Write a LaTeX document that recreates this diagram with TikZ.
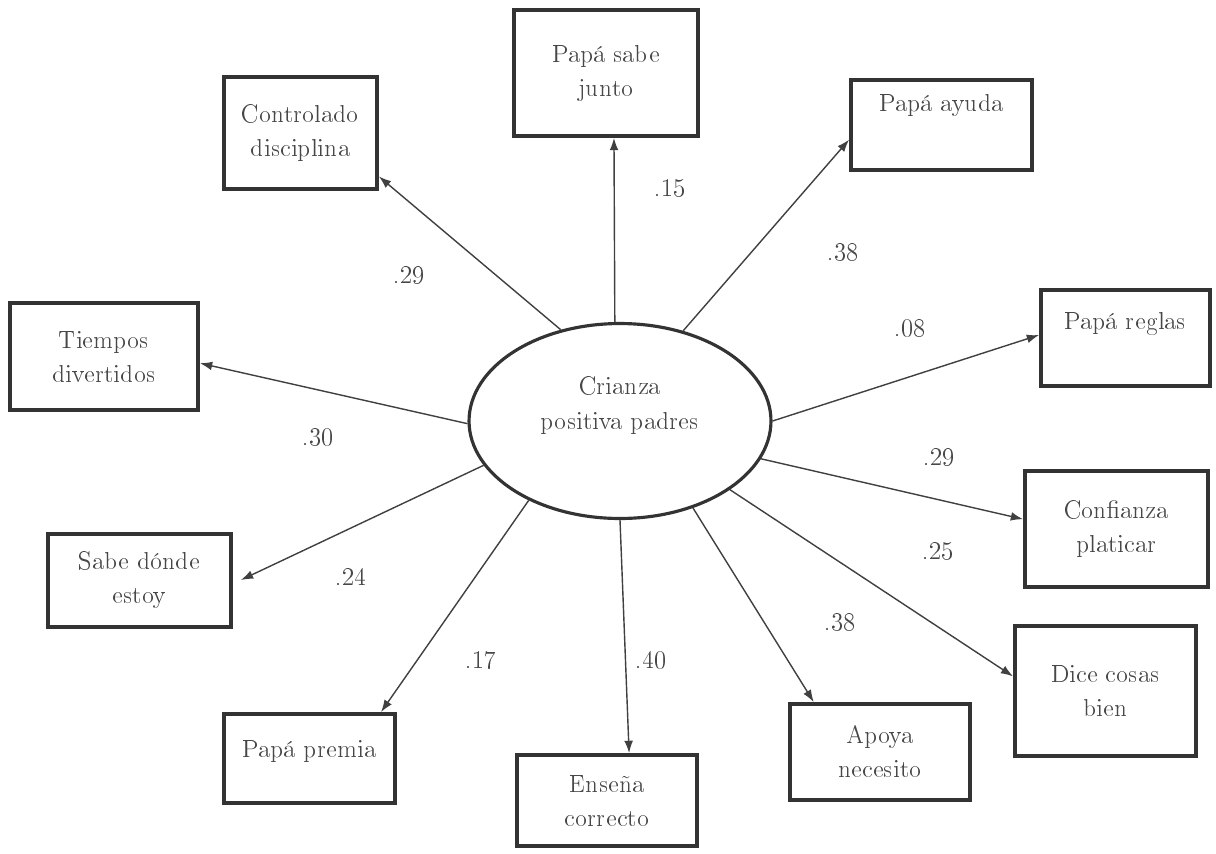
\documentclass[tikz,border=0pt]{standalone}
\usepackage[T1]{fontenc}
\usetikzlibrary{arrows.meta,positioning,shapes.geometric}

\begin{document}
\begin{tikzpicture}[x=0.02cm,y=-0.02cm,
  every node/.style={font=\fontsize{14}{19.4}\selectfont,text=black!72},
  box/.style={draw=black!80,line width=2.2pt,align=center,inner sep=0pt},
  lift/.style={text depth=#1},
  wt/.style={font=\fontsize{13.5}{16}\selectfont},
  arr/.style={draw=black!75,line width=.8pt,-{Latex[length=7pt,width=5pt]}}]
\useasboundingbox (0,0) rectangle (1216,853);
% latent factor
\node[ellipse,draw=black!80,line width=1.8pt,align=center,minimum width=6.04cm,minimum height=3.9cm,lift=0.71cm] (crianza) at (620,421) {Crianza\\positiva padres};
% indicators
\node[box,minimum width=3.68cm,minimum height=2.52cm] (junto) at (606,73) {Papá sabe\\junto};
\node[box,minimum width=3.06cm,minimum height=2.24cm] (ctrl) at (300.5,133) {Controlado\\disciplina};
\node[box,minimum width=3.62cm,minimum height=1.80cm,lift=0.87cm] (ayuda) at (941.5,125) {Papá ayuda};
\node[box,minimum width=3.76cm,minimum height=2.14cm] (tiempos) at (104,356.5) {Tiempos\\divertidos};
\node[box,minimum width=3.38cm,minimum height=1.92cm,lift=0.67cm] (reglas) at (1125.5,338) {Papá reglas};
\node[box,minimum width=3.66cm,minimum height=2.32cm] (confianza) at (1116.5,529) {Confianza\\platicar};
\node[box,minimum width=3.66cm,minimum height=1.86cm] (sabe) at (139.5,580.5) {Sabe dónde\\estoy};
\node[box,minimum width=3.62cm,minimum height=2.60cm] (dice) at (1105.5,691) {Dice cosas\\bien};
\node[box,minimum width=3.42cm,minimum height=1.78cm,lift=0.39cm] (premia) at (309.5,758.5) {Papá premia};
\node[box,minimum width=3.60cm,minimum height=1.82cm] (ensena) at (607,800.5) {Enseña\\correcto};
\node[box,minimum width=3.60cm,minimum height=1.92cm] (apoya) at (880,752) {Apoya\\necesito};
% loadings
\draw[arr] (crianza.93) -- (junto.-83);
\draw[arr] (crianza.123) -- (ctrl.-29);
\draw[arr] (crianza.55) -- (ayuda.189);
\draw[arr] (crianza.181.5) -- (tiempos.-4);
\draw[arr] (crianza.0) -- (reglas.178);
\draw[arr] (crianza.-15) -- (confianza.174);
\draw[arr,shorten >=5pt] (crianza.198) -- (sabe.-2);
\draw[arr] (crianza.-32) -- (dice.171);
\draw[arr] (crianza.221) -- (premia.33);
\draw[arr] (crianza.270) -- (ensena.65);
\draw[arr] (crianza.-50) -- (apoya.143);
\node[wt] (w1) at (670,188) {.15};
\node[wt] (w2) at (843,252) {.38};
\node[wt] (w3) at (409,275) {.29};
\node[wt] (w4) at (910,328) {.08};
\node[wt] (w5) at (318,437) {.30};
\node[wt] (w6) at (939,457) {.29};
\node[wt] (w7) at (938,551) {.25};
\node[wt] (w8) at (351,577) {.24};
\node[wt] (w9) at (840,622) {.38};
\node[wt] (w10) at (481,660) {.17};
\node[wt] (w11) at (651,660) {.40};
\end{tikzpicture}
\end{document}
